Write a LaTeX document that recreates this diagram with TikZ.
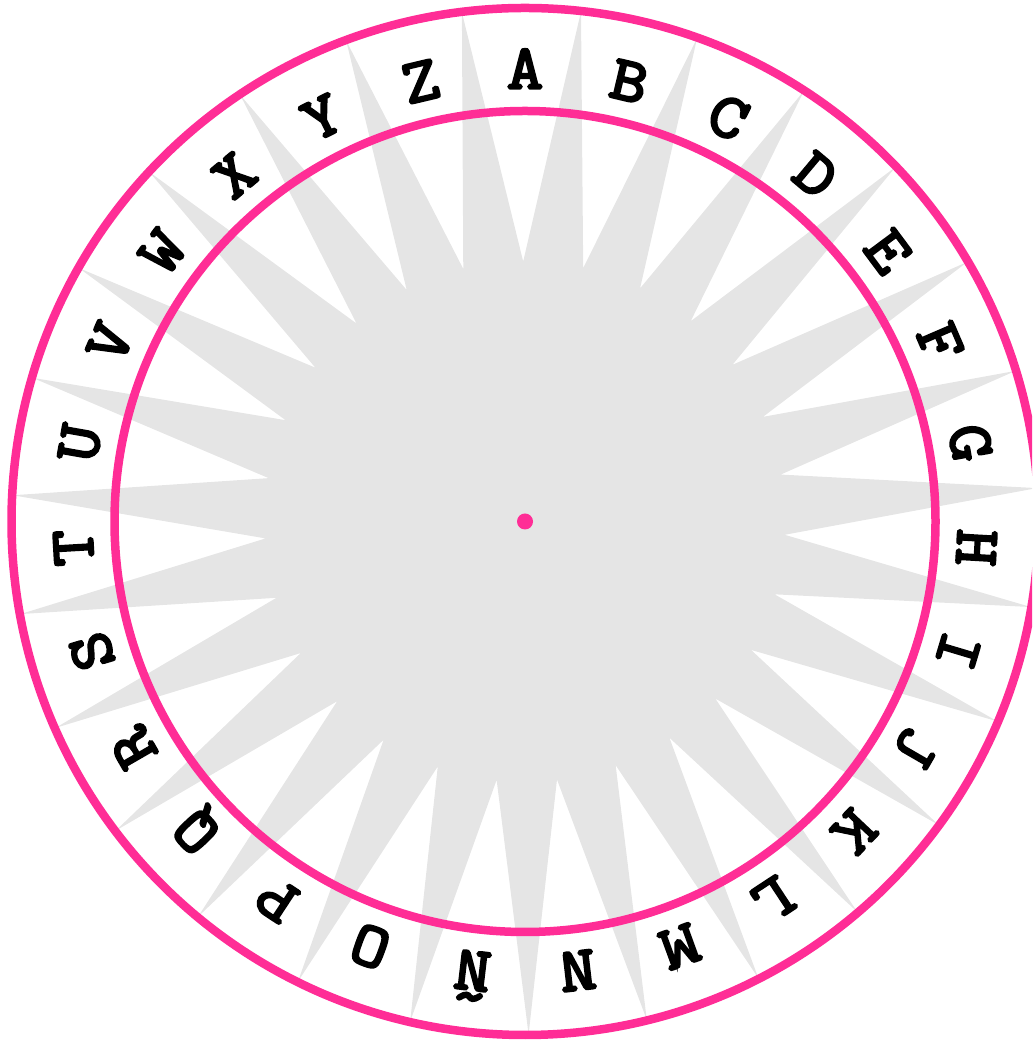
\documentclass[tikz,border=0pt]{standalone}
\usepackage{fontspec}
\newfontfamily\wheelfont{Latin Modern Mono}[FakeBold=4,FakeStretch=1.12]
\definecolor{wheelpink}{RGB}{255,45,150}
\definecolor{stargray}{RGB}{229,229,229}
\tikzset{
  ring/.style={draw=wheelpink, line width=8.5pt},
  letter/.style={font=\wheelfont\bfseries\fontsize{63}{63}\selectfont, text=black,
    inner sep=0pt, text height=36pt, text depth=0pt, anchor=center},
  hub/.style={fill=wheelpink, circle, inner sep=0pt, minimum size=16pt}
}
\begin{document}
\begin{tikzpicture}[x=1pt,y=1pt]
\useasboundingbox (0,0) rectangle (1032,1040);
\clip (0,0) rectangle (1032,1040);
\begin{scope}[shift={(525,518.5)}]
  \coordinate (c) at (0,0);
  % star
  \fill[stargray] plot[samples at={0,...,53}, variable=\k]
    ({ifthenelse(mod(\k,2)==0,260,513)*cos(90.4-\k*20/3)},
     {ifthenelse(mod(\k,2)==0,260,513)*sin(90.4-\k*20/3)}) -- cycle;
  % rings
  \draw[ring] (c) circle[radius=513.5];
  \draw[ring] (c) circle[radius=410.5];
  \node[hub] (centre) at (c) {};
  % letters
  \foreach \L [count=\i from 0] in {A,B,C,D,E,F,G,H,I,J,K,L,M,N,Ñ,O,P,Q,R,S,T,U,V,W,X,Y,Z}{
    \node[letter, rotate={-\i*40/3}] (L\i) at ({90-\i*40/3}:451) {\L};
  }
\end{scope}
\end{tikzpicture}
\end{document}
